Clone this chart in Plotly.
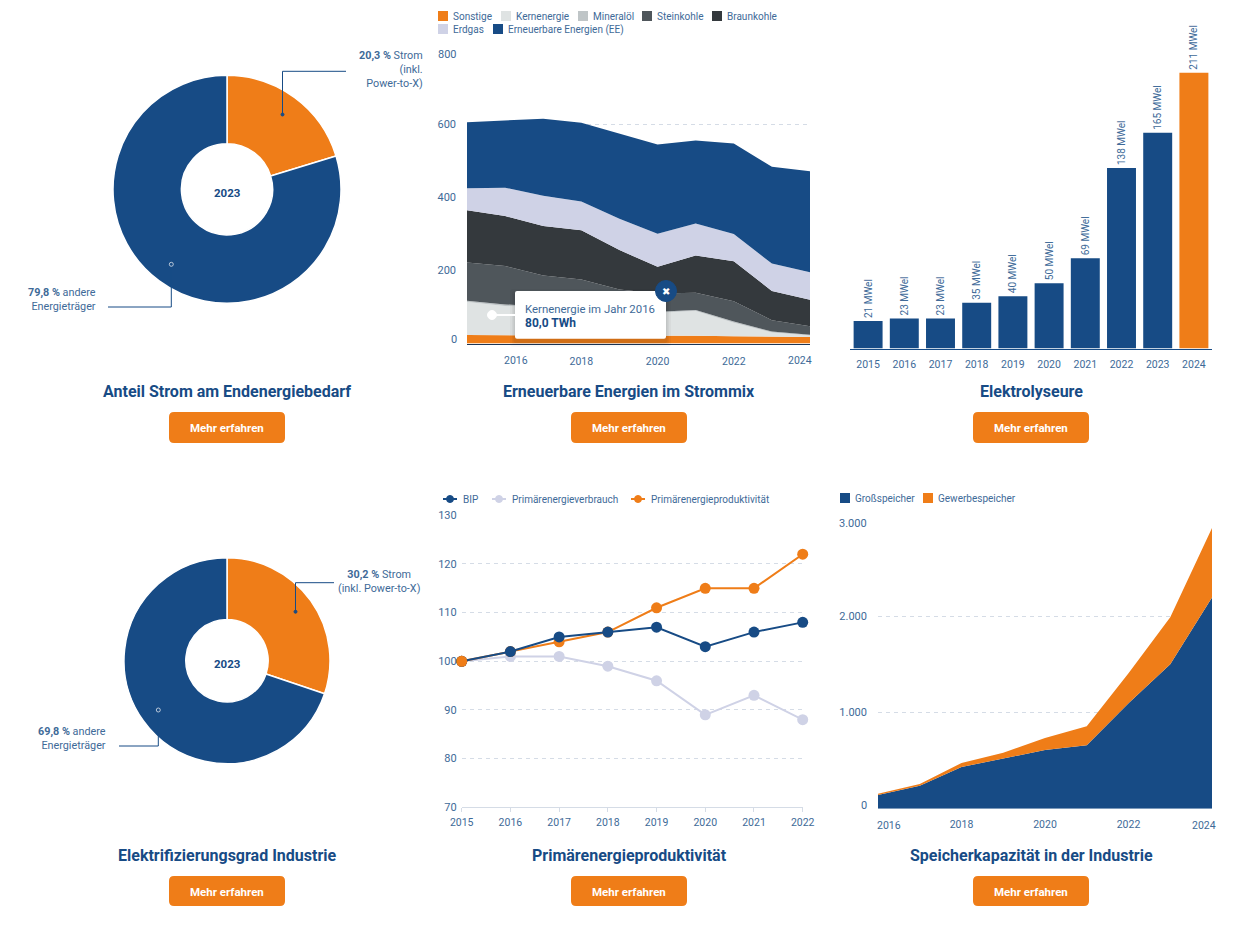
import plotly.graph_objects as go

W, H = 1243, 942
FONT = "Roboto"
BLUE = "#174B85"
ORANGE = "#EF7D18"
LAV = "#CFD2E6"
TXT = "#3E6A98"
GRID = "#D5DCE6"

# ---------- data ----------
donut1_labels = ["Strom (inkl. Power-to-X)", "andere Energieträger"]
donut1_values = [20.3, 79.8]
donut2_labels = ["Strom (inkl. Power-to-X)", "andere Energieträger"]
donut2_values = [30.2, 69.8]

mix_years = [2015, 2016, 2017, 2018, 2019, 2020, 2021, 2022, 2023, 2024]
mix_sonstige = [23, 23, 22, 22, 21, 21, 21, 20, 19, 18]
mix_kern = [91, 80, 76, 72, 68, 63, 68, 37, 11, 4]
mix_mineral = [3, 4, 3, 3, 3, 3, 3, 3, 3, 2]
mix_stein = [105, 105, 85, 78, 56, 50, 47, 56, 31, 23]
mix_braun = [143, 137, 136, 135, 108, 73, 102, 109, 80, 73]
mix_erdgas = [60, 78, 83, 79, 86, 91, 88, 75, 75, 75]
mix_ee = [181, 184, 211, 216, 233, 244, 227, 248, 265, 277]

el_years = ["2015", "2016", "2017", "2018", "2019", "2020", "2021", "2022", "2023", "2024"]
el_values = [21, 23, 23, 35, 40, 50, 69, 138, 165, 211]

line_years = [2015, 2016, 2017, 2018, 2019, 2020, 2021, 2022]
line_bip = [100, 102, 105, 106, 107, 103, 106, 108]
line_pev = [100, 101, 101, 99, 96, 89, 93, 88]
line_prod = [100, 102, 104, 106, 111, 115, 115, 122]

st_years = [2016, 2017, 2018, 2019, 2020, 2021, 2022, 2023, 2024]
st_gross = [142, 239, 434, 524, 610, 659, 1096, 1502, 2196]
st_gewerbe = [14, 18, 41, 59, 125, 198, 312, 489, 724]

mix_ticks = [0, 200, 400, 600, 800]
mix_ticktext = ["", "200", "400", "600", ""]
line_ticks = [70, 80, 90, 100, 110, 120, 130]
st_ticks = [0, 1000, 2000, 3000]
st_ticktext = ["", "1.000", "2.000", ""]

mix_colors = {"Sonstige": ORANGE, "Kernenergie": "#DFE3E3", "Mineralöl": "#BFC5C7", "Steinkohle": "#4F565B",
              "Braunkohle": "#34393D", "Erdgas": LAV, "Erneuerbare Energien (EE)": "#174B85"}


# ---------- helpers ----------
def px(x):
    return x / W


def py(y):
    return 1 - y / H


shapes, annos = [], []


def text(x, y, s, size=11, color=TXT, xanchor="center", align=None, font=FONT, **kw):
    annos.append(dict(x=px(x), y=py(y), xref="paper", yref="paper", text=s, showarrow=False,
                      xanchor=xanchor, yanchor="middle", align=align or xanchor,
                      font=dict(family=font, size=size, color=color), borderpad=0, borderwidth=0, **kw))


def rect(x0, y0, x1, y1, color, r=0, layer="above", opacity=None):
    if r:
        a0, a1, b0, b1 = px(x0), px(x1), py(y0), py(y1)
        rx, ry = r / W, r / H
        p = (f"M{a0 + rx},{b0} L{a1 - rx},{b0} Q{a1},{b0} {a1},{b0 - ry} L{a1},{b1 + ry} Q{a1},{b1} {a1 - rx},{b1} "
             f"L{a0 + rx},{b1} Q{a0},{b1} {a0},{b1 + ry} L{a0},{b0 - ry} Q{a0},{b0} {a0 + rx},{b0} Z")
        s = dict(type="path", path=p, xref="paper", yref="paper", fillcolor=color, line=dict(width=0), layer=layer)
    else:
        s = dict(type="rect", x0=px(x0), x1=px(x1), y0=py(y0), y1=py(y1), xref="paper", yref="paper",
                 fillcolor=color, line=dict(width=0), layer=layer)
    if opacity is not None:
        s["opacity"] = opacity
    shapes.append(s)


def polyline(points, color=BLUE, width=1):
    p = "M" + " L".join(f"{px(a)},{py(b)}" for a, b in points)
    shapes.append(dict(type="path", path=p, xref="paper", yref="paper", line=dict(color=color, width=width), layer="above"))


def circle(cx, cy, r, fill, line=None, lw=1):
    shapes.append(dict(type="circle", x0=px(cx - r), x1=px(cx + r), y0=py(cy + r), y1=py(cy - r), xref="paper",
                       yref="paper", fillcolor=fill, line=dict(color=line or fill, width=lw), layer="above"))


def card(cx, y_title, y_btn0, y_btn1, title):
    text(cx, y_title, f"<b>{title}</b>", size=16, color=BLUE)
    rect(cx - 58, y_btn0, cx + 58, y_btn1, ORANGE, r=5)
    text(cx, (y_btn0 + y_btn1) / 2 + 0.7, "<b>Mehr erfahren</b>", size=11.5, color="#FFFFFF")


def dom_x(a, b):
    return [px(a), px(b)]


def dom_y(top, bottom):
    return [py(bottom), py(top)]


fig = go.Figure()

# ---------- donuts ----------
for labels, values, cx, cy, r, hole in [(donut1_labels, donut1_values, 227, 189.3, 114, 0.4),
                                        (donut2_labels, donut2_values, 227, 660.7, 103, 0.4)]:
    fig.add_trace(go.Pie(labels=labels, values=values, hole=hole, sort=False, direction="clockwise", rotation=0,
                         marker=dict(colors=[ORANGE, BLUE], line=dict(color="#FFFFFF", width=1.5)),
                         textinfo="none", showlegend=False,
                         domain=dict(x=dom_x(cx - r, cx + r), y=dom_y(cy - r, cy + r))))

text(227, 193, "<b>2023</b>", size=11.5, color=BLUE)
text(227, 664, "<b>2023</b>", size=11.5, color=BLUE)

polyline([(282.5, 114.5), (282.5, 71.3), (346, 71.3)])
circle(282.5, 114.5, 1.5, BLUE)
text(423.5, 70, "<b>20,3 %</b> Strom<br>(inkl.<br>Power-to-X)", size=10.8, xanchor="right")
polyline([(171.3, 267), (171.3, 307), (108, 307)])
circle(171.3, 264.3, 2, BLUE, "#DDE3EC", 0.8)
text(96, 299, "<b>79,8 %</b> andere<br>Energieträger", size=10.8, xanchor="right")

polyline([(295.5, 611.7), (295.5, 582.7), (334, 582.7)])
circle(295.5, 611.7, 1.5, BLUE)
text(379, 581, "<b>30,2 %</b> Strom<br>(inkl. Power-to-X)", size=10.8)
polyline([(158.3, 712), (158.3, 746), (119, 746)])
circle(158.3, 710, 2, BLUE, "#DDE3EC", 0.8)
text(106, 738, "<b>69,8 %</b> andere<br>Energieträger", size=10.8, xanchor="right")

# ---------- stacked area: Strommix ----------
for name, vals in [("Sonstige", mix_sonstige), ("Kernenergie", mix_kern), ("Mineralöl", mix_mineral),
                   ("Steinkohle", mix_stein), ("Braunkohle", mix_braun), ("Erdgas", mix_erdgas),
                   ("Erneuerbare Energien (EE)", mix_ee)]:
    fig.add_trace(go.Scatter(x=mix_years, y=vals, name=name, stackgroup="mix", mode="lines",
                             line=dict(width=0, color=mix_colors[name]), fillcolor=mix_colors[name],
                             showlegend=False, xaxis="x", yaxis="y"))

# ---------- bars: Elektrolyseure ----------
fig.add_trace(go.Bar(x=el_years, y=el_values, text=[f"{v} MWel" for v in el_values],
                     textposition="outside", textangle=-90, constraintext="none", cliponaxis=False,
                     textfont=dict(family=FONT, size=10, color=TXT),
                     marker=dict(color=[BLUE] * 9 + [ORANGE], line=dict(width=0)), showlegend=False,
                     xaxis="x2", yaxis="y2"))

# ---------- lines ----------
for name, vals, col in [("Primärenergieverbrauch", line_pev, LAV), ("Primärenergieproduktivität", line_prod, ORANGE),
                        ("BIP", line_bip, BLUE)]:
    fig.add_trace(go.Scatter(x=line_years, y=vals, name=name, mode="lines+markers", cliponaxis=False,
                             line=dict(color=col, width=2), marker=dict(color=col, size=11),
                             showlegend=False, xaxis="x3", yaxis="y3"))
fig.add_trace(go.Scatter(x=line_years[:1], y=line_prod[:1], mode="markers", cliponaxis=False,
                         marker=dict(color=ORANGE, size=11), showlegend=False, hoverinfo="skip",
                         xaxis="x3", yaxis="y3"))

# ---------- stacked area: Speicher ----------
for name, vals, col in [("Großspeicher", st_gross, BLUE), ("Gewerbespeicher", st_gewerbe, ORANGE)]:
    fig.add_trace(go.Scatter(x=st_years, y=vals, name=name, stackgroup="st", mode="lines",
                             line=dict(width=0, color=col), fillcolor=col, showlegend=False,
                             xaxis="x4", yaxis="y4"))

xtick = dict(family=FONT, size=10.5, color=TXT)
ytick = dict(family=FONT, size=11, color=TXT)
grid = dict(showgrid=True, gridcolor=GRID, griddash="4px,4px", gridwidth=1, zeroline=False)
layout_axes = dict(
    xaxis=dict(domain=dom_x(467, 810), range=[2015, 2024], tickvals=[2018, 2020, 2022], ticktext=["2018", "2020", "2022"],
               showgrid=False, zeroline=False, showline=True, linecolor="#1C3557", linewidth=1, tickfont=xtick,
               ticks="", ticklabelstandoff=8, anchor="y", fixedrange=True, automargin=False),
    yaxis=dict(domain=dom_y(51.5, 343.5), range=[0, 800], tickvals=mix_ticks, ticktext=mix_ticktext, tickfont=ytick,
               ticks="", anchor="x", ticklabelstandoff=10, fixedrange=True, automargin=False, **grid),
    xaxis2=dict(domain=dom_x(850, 1212), type="category", showgrid=False, zeroline=False, showline=True, linecolor=BLUE,
                linewidth=1, tickfont=xtick, ticks="", ticklabelstandoff=6, anchor="y2", fixedrange=True, automargin=False),
    yaxis2=dict(domain=dom_y(20, 348.5), range=[0, 251.3], visible=False, anchor="x2", fixedrange=True, automargin=False),
    xaxis3=dict(domain=dom_x(461.7, 802.7), range=[2015, 2022], tickvals=line_years, showgrid=False, zeroline=False,
                showline=True, linecolor="#D5DCE6", ticks="outside", ticklen=4, tickcolor="#D5DCE6", tickfont=xtick,
                ticklabelstandoff=1, anchor="y3", fixedrange=True, automargin=False),
    yaxis3=dict(domain=dom_y(515.3, 807.3), range=[70, 130], tickvals=line_ticks, tickfont=ytick, ticks="", anchor="x3",
                ticklabelstandoff=4, fixedrange=True, automargin=False, **grid),
    xaxis4=dict(domain=dom_x(878, 1212), range=[2016, 2024], tickvals=[2018, 2020, 2022], ticktext=["2018", "2020", "2022"],
                showgrid=False, zeroline=False, showline=False, tickfont=xtick, ticks="", ticklabelstandoff=8, anchor="y4",
                fixedrange=True, automargin=False),
    yaxis4=dict(domain=dom_y(520.3, 808.7), range=[0, 3000], tickvals=st_ticks, ticktext=st_ticktext, tickfont=ytick,
                ticks="", anchor="x4", ticklabelstandoff=10, fixedrange=True, automargin=False, **grid),
)


# edge x labels, shifted inward as in the reference
def edge_label(year, xref, y, shift):
    annos.append(dict(x=year, y=py(y), xref=xref, yref="paper", text=str(year), showarrow=False, xshift=shift,
                      xanchor="center", yanchor="middle", font=xtick))


edge_label(2016, "x", 360, 10.7)
edge_label(2024, "x", 360, -10.5)
edge_label(2016, "x4", 825, 10.7)
edge_label(2024, "x4", 825, -8)

# edge y labels, nudged inward as in the reference
text(456.5, 54.7, "800", size=11, xanchor="right")
text(456.5, 340, "0", size=11, xanchor="right")
text(867, 523, "3.000", size=11, xanchor="right")
text(867, 805, "0", size=11, xanchor="right")

# ---------- legends ----------
for x, y, name in [(438, 11, "Sonstige"), (501, 11, "Kernenergie"), (578, 11, "Mineralöl"), (642, 11, "Steinkohle"),
                   (712, 11, "Braunkohle"), (438, 24, "Erdgas"), (493, 24, "Erneuerbare Energien (EE)")]:
    rect(x, y, x + 10, y + 10, mix_colors[name])
    text(x + 15, y + 5.5, name, size=10, xanchor="left")

for x, name, col in [(443, "BIP", BLUE), (492, "Primärenergieverbrauch", LAV), (631, "Primärenergieproduktivität", ORANGE)]:
    polyline([(x, 499), (x + 14, 499)], col, 2)
    circle(x + 7, 499, 3.5, col)
    text(x + 19.5, 499.5, name, size=10, xanchor="left")

for x, name, col in [(840, "Großspeicher", BLUE), (923, "Gewerbespeicher", ORANGE)]:
    rect(x, 493, x + 10, 503, col)
    text(x + 15.3, 498.5, name, size=10, xanchor="left")

# ---------- tooltip ----------
for grow, op in [(5, 0.03), (3, 0.04), (1.5, 0.06)]:
    rect(515 - grow, 291 - grow + 3, 666 + grow, 338.7 + grow + 3, "#000000", r=3, opacity=op)
polyline([(492, 315), (516, 315)], "#FFFFFF", 2)
circle(492, 315, 4.5, "#FFFFFF")
rect(515, 291, 666, 338.7, "#FFFFFF", r=2)
text(525.3, 309, "Kernenergie im Jahr 2016", size=11.4, xanchor="left")
text(525.3, 323, "<b>80,0 TWh</b>", size=12, color=BLUE, xanchor="left")
circle(666, 291, 10.5, BLUE)
text(666, 291, "✖", size=10, color="#FFFFFF", font="DejaVu Sans")

# ---------- titles and buttons ----------
card(227, 391, 412, 443, "Anteil Strom am Endenergiebedarf")
card(629, 391, 412, 443, "Erneuerbare Energien im Strommix")
card(1031, 391, 412, 443, "Elektrolyseure")
card(227, 855, 876, 906, "Elektrifizierungsgrad Industrie")
card(629, 855, 876, 906, "Primärenergieproduktivität")
card(1031, 855, 876, 906, "Speicherkapazität in der Industrie")

fig.update_layout(width=W, height=H, autosize=False, margin=dict(l=0, r=0, t=0, b=0, pad=0),
                  paper_bgcolor="#FFFFFF", plot_bgcolor="rgba(0,0,0,0)", showlegend=False, bargap=0.2,
                  font=dict(family=FONT, color=TXT), shapes=shapes, annotations=annos, **layout_axes)

fig.write_html("out.html", config=dict(displayModeBar=False),
               post_script="document.body.style.margin='0';document.body.style.overflow='hidden';")
